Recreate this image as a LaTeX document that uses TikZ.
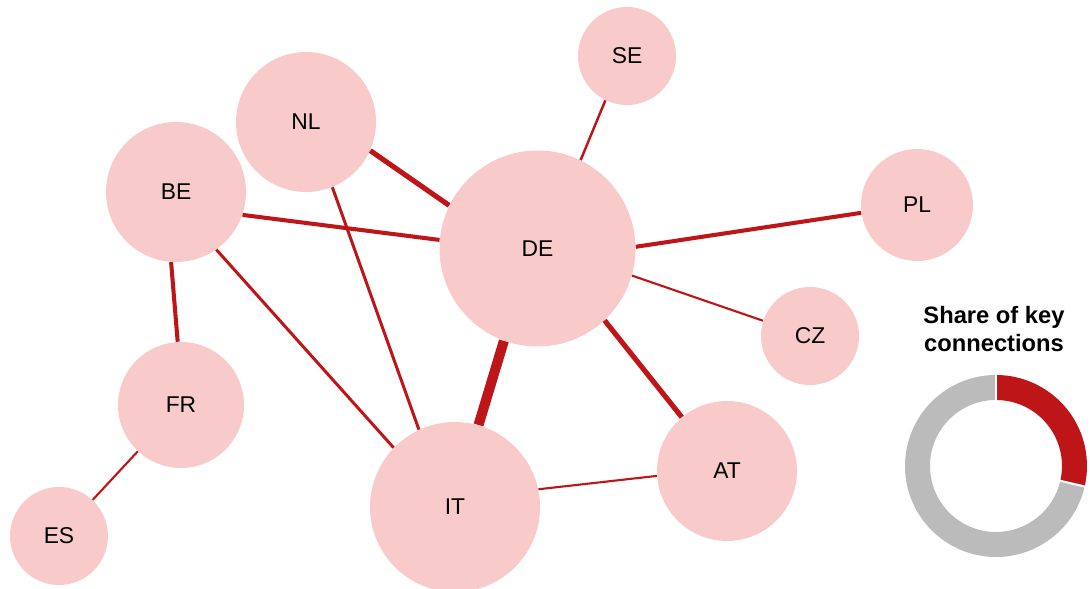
\documentclass[tikz,border=0pt]{standalone}
\usepackage{fontspec}
\setmainfont{Liberation Sans}
\usetikzlibrary{calc}
\definecolor{bubble}{HTML}{F8CACA}
\definecolor{linkred}{HTML}{BE1519}
\definecolor{ringgray}{HTML}{BBBBBB}

\begin{document}
\begin{tikzpicture}[x=0.02cm, y=0.02cm,
  bub/.style={circle, fill=bubble, inner sep=0pt, minimum size=#1*0.02cm, font=\fontsize{13}{15}\selectfont},
  link/.style={draw=linkred, line width=#1}]
\useasboundingbox (0,0) rectangle (1090,589);
% countries
\node [bub=196] (DE) at (537.5,340.5) {DE};
\node [bub=170] (IT) at (455,82) {IT};
\node [bub=140] (NL) at (306,467) {NL};
\node [bub=140] (BE) at (176,397) {BE};
\node [bub=140] (AT) at (727,118) {AT};
\node [bub=126] (FR) at (181,184) {FR};
\node [bub=112] (PL) at (917,384) {PL};
\node [bub=98] (SE) at (627,533) {SE};
\node [bub=98] (CZ) at (810,253) {CZ};
\node [bub=98] (ES) at (59,53) {ES};
% connections
\draw [link=5.7pt] (DE.-110.5) -- (IT.74.3);
\draw [link=2.9pt] (NL.-24.9) -- (DE.154.8);
\draw [link=2.9pt] (DE.-47.8) -- (AT.130.5);
\draw [link=2.3pt] (DE.1.5) -- (PL.188);
\draw [link=2.3pt] (BE.-19) -- (DE.175);
\draw [link=2.3pt] (BE.-94.9) -- (FR.93.6);
\draw [link=1.7pt] (NL.-68.7) -- (IT.115.1);
\draw [link=1.7pt] (BE.-55.3) -- (IT.136.9);
\draw [link=1.4pt] (SE.-116.2) -- (DE.64);
\draw [link=1.2pt] (DE.-16.7) -- (CZ.162.6);
\draw [link=1.2pt] (IT.12.9) -- (AT.184.9);
\draw [link=1.2pt] (FR.-133.5) -- (ES.47.7);
% share of key connections
\node [font=\bfseries\fontsize{13.5}{16}\selectfont, align=center] (share) at (994,260) {Share of key\\connections};
\coordinate (ring) at (996,123);
\fill [linkred] ($(ring)+(90:91)$) arc [start angle=90, end angle=-13, radius=91]
  -- ($(ring)+(-13:66)$) arc [start angle=-13, end angle=90, radius=66] -- cycle;
\fill [ringgray] ($(ring)+(-13:91)$) arc [start angle=-13, end angle=-270, radius=91]
  -- ($(ring)+(-270:66)$) arc [start angle=-270, end angle=-13, radius=66] -- cycle;
\draw [white, line width=1.2pt] ($(ring)+(90:63)$) -- ($(ring)+(90:94)$);
\draw [white, line width=1.2pt] ($(ring)+(-13:63)$) -- ($(ring)+(-13:94)$);
\end{tikzpicture}
\end{document}
